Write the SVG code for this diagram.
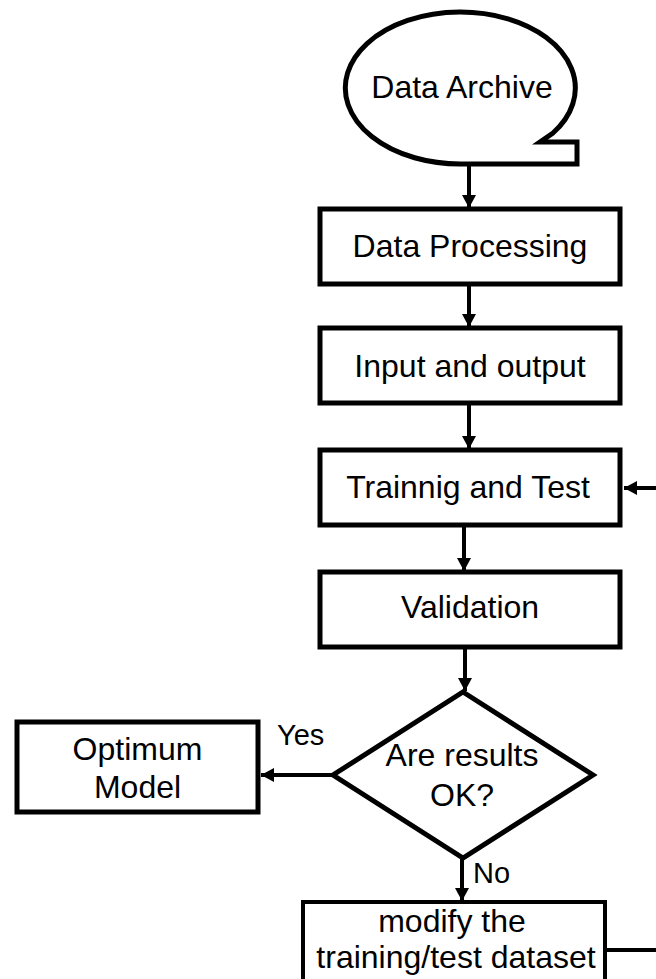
<svg xmlns="http://www.w3.org/2000/svg" width="656" height="979" viewBox="0 0 656 979">
<style>
.shape{fill:#fff;stroke:#000;stroke-width:5}
.t{font-family:"Liberation Sans",Arial,sans-serif;font-size:32px;fill:#000;text-anchor:middle}
.lbl{font-family:"Liberation Sans",Arial,sans-serif;font-size:29px;fill:#000}
.c{fill:none;stroke:#000;stroke-width:4}
</style>
<defs>
<marker id="ah" markerUnits="userSpaceOnUse" markerWidth="14" markerHeight="14" refX="13" refY="7" orient="auto">
<path d="M0,0 L13,7 L0,14 Z" fill="#000"/>
</marker>
</defs>
<rect width="656" height="979" fill="#fff"/>
<g id="connectors">
<line class="c" x1="469" y1="164" x2="469" y2="208" marker-end="url(#ah)"/>
<line class="c" x1="469" y1="284" x2="469" y2="327" marker-end="url(#ah)"/>
<line class="c" x1="469" y1="403" x2="469" y2="449" marker-end="url(#ah)"/>
<line class="c" x1="464" y1="525" x2="464" y2="571" marker-end="url(#ah)"/>
<line class="c" x1="465" y1="647" x2="465" y2="691" marker-end="url(#ah)"/>
<line class="c" x1="333" y1="775" x2="261" y2="775" marker-end="url(#ah)"/>
<line class="c" x1="462" y1="858" x2="462" y2="901" marker-end="url(#ah)"/>
<path class="c" d="M605,950 H664 V488 H624" marker-end="url(#ah)"/>
</g>
<g id="data-archive">
<path class="shape" d="M462,164 A115,76 0 1 1 553,133 L540,142 L577,142 L577,164 Z"/>
<text class="t" x="462" y="98">Data Archive</text>
</g>
<g id="data-processing">
<rect class="shape" x="320" y="209" width="300" height="75"/>
<text class="t" x="470" y="257">Data Processing</text>
</g>
<g id="input-output">
<rect class="shape" x="320" y="328" width="300" height="75"/>
<text class="t" x="470" y="377">Input and output</text>
</g>
<g id="training-test">
<rect class="shape" x="320" y="450" width="300" height="75"/>
<text class="t" x="468" y="498">Trainnig and Test</text>
</g>
<g id="validation">
<rect class="shape" x="320" y="572" width="300" height="75"/>
<text class="t" x="470" y="618">Validation</text>
</g>
<g id="decision">
<polygon class="shape" points="463,692 593,775 463,858 333,775"/>
<text class="t" x="462" y="766">Are results</text>
<text class="t" x="462" y="806">OK?</text>
</g>
<g id="optimum-model">
<rect class="shape" x="17" y="722" width="241" height="90"/>
<text class="t" x="137.5" y="760">Optimum</text>
<text class="t" x="137.5" y="798">Model</text>
</g>
<g id="modify-dataset">
<rect class="shape" style="stroke-width:4" x="303" y="902" width="302" height="95"/>
<text class="t" x="452" y="932">modify the</text>
<text class="t" x="456" y="968">training/test dataset</text>
</g>
<g id="labels">
<text class="lbl" x="277" y="745">Yes</text>
<text class="lbl" x="473" y="883">No</text>
</g>
</svg>
